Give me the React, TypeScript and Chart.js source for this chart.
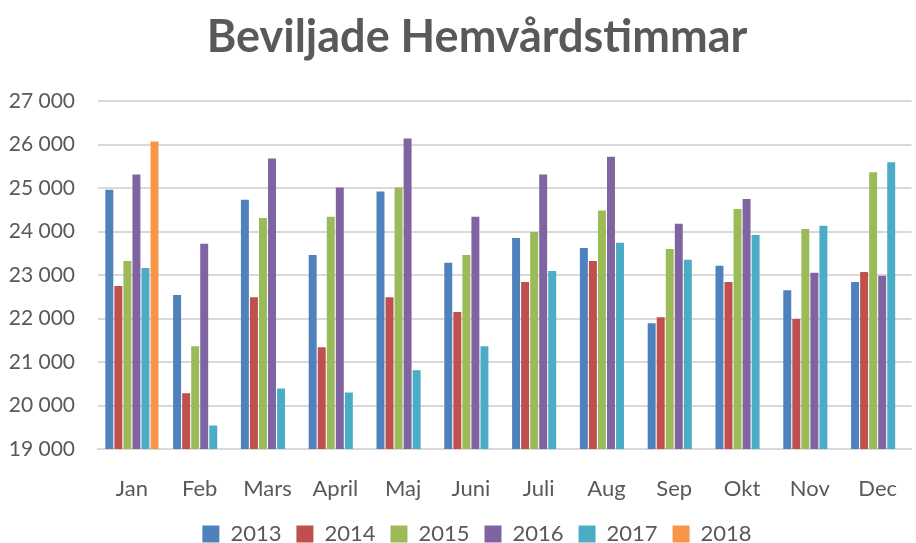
import React, { useEffect, useRef } from "react";
import { Chart, registerables } from "chart.js";

Chart.register(...registerables);

const months = ["Jan", "Feb", "Mars", "April", "Maj", "Juni", "Juli", "Aug", "Sep", "Okt", "Nov", "Dec"];
const y2013 = [24960, 22540, 24730, 23460, 24920, 23280, 23850, 23620, 21890, 23210, 22650, 22840];
const y2014 = [22745, 20280, 22490, 21340, 22490, 22150, 22840, 23320, 22030, 22840, 21990, 23070];
const y2015 = [23320, 21360, 24310, 24340, 25010, 23460, 23990, 24480, 23600, 24520, 24060, 25360];
const y2016 = [25310, 23720, 25680, 25010, 26140, 24340, 25310, 25720, 24180, 24750, 23050, 22980];
const y2017 = [23160, 19540, 20390, 20300, 20810, 21360, 23090, 23740, 23350, 23920, 24130, 25590];
const y2018 = [26070, null, null, null, null, null, null, null, null, null, null, null];

const seriesNames = ["2013", "2014", "2015", "2016", "2017", "2018"];
const seriesValues = [y2013, y2014, y2015, y2016, y2017, y2018];
const colors = ["#4F81BD", "#C0504D", "#9BBB59", "#8064A2", "#4BACC6", "#F79646"];

const FONT = "Lato, 'Open Sans', sans-serif";
const TEXT = "#595959";

function fmt(v: number) {
  const s = String(Math.round(v));
  return s.replace(/\B(?=(\d{3})+(?!\d))/g, " ");
}

const unclipYLabels = {
  id: "unclipYLabels",
  afterLayout(chart: any) {
    if (chart.scales.y) chart.scales.y.left = 0;
  },
};

export default function App() {
  const ref = useRef<HTMLCanvasElement | null>(null);
  useEffect(() => {
    document.body.style.margin = "0";
    const ctx = ref.current!;
    const chart = new Chart(ctx, {
      type: "bar",
      data: {
        labels: months,
        datasets: seriesNames.map((n, i) => ({
          label: n,
          data: seriesValues[i],
          backgroundColor: colors[i],
          borderWidth: 0,
          categoryPercentage: 0.8,
          barPercentage: 0.88,
        })),
      },
      plugins: [unclipYLabels],
      options: {
        animation: false,
        responsive: false,
        maintainAspectRatio: false,
        layout: { padding: { left: 38, right: 0, top: 4, bottom: -12 } },
        plugins: {
          title: {
            display: true,
            text: "Beviljade Hemvårdstimmar",
            color: TEXT,
            font: { family: FONT, size: 45, weight: "bold" },
            padding: { top: 6, bottom: 37 },
          },
          legend: {
            position: "bottom",
            labels: {
              color: TEXT,
              font: { family: FONT, size: 22 },
              boxWidth: 17,
              boxHeight: 17,
              padding: 15,
            },
          },
          tooltip: { enabled: false },
        },
        scales: {
          x: {
            grid: { display: false },
            border: { color: "#D9D9D9", width: 2 },
            ticks: { color: TEXT, font: { family: FONT, size: 22 }, padding: 19 },
            afterFit: (s: any) => {
              s.height = 59;
            },
          },
          y: {
            min: 19000,
            max: 27000,
            afterFit: (s: any) => {
              s.width = 60;
            },
            ticks: {
              stepSize: 1000,
              color: TEXT,
              font: { family: FONT, size: 21 },
              padding: 23,
              callback: (v: any) => fmt(Number(v)),
            },
            grid: { color: "#D9D9D9", lineWidth: 2, drawTicks: false },
            border: { display: false },
          },
        },
      },
    });
    return () => chart.destroy();
  }, []);
  return (
    <div style={{ width: 916, height: 543 }}>
      <canvas ref={ref} width={916} height={543} style={{ display: "block" }} />
    </div>
  );
}
